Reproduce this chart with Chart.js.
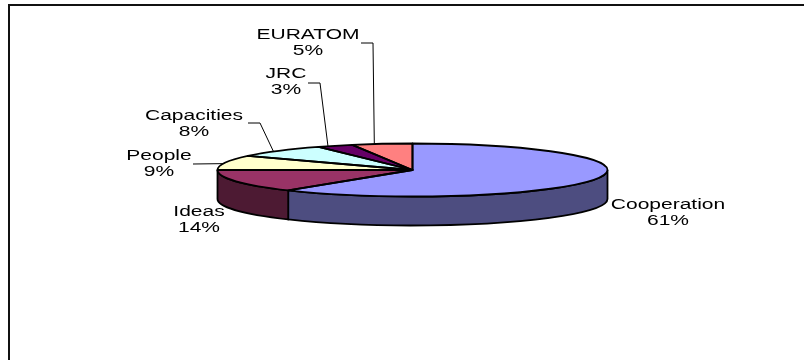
<!DOCTYPE html>
<html>
<head>
<meta charset="utf-8">
<title>Budget shares</title>
<script src="https://cdn.jsdelivr.net/npm/chart.js@4"></script>
<style>
  html, body { margin: 0; background: #fff; }
  canvas { display: block; }
</style>
</head>
<body>
<canvas id="pie3d" width="804" height="360"></canvas>
<script>
const categories = ["Cooperation", "Ideas", "People", "Capacities", "JRC", "EURATOM"];
const shares = [61, 14, 9, 8, 3, 5];
const topColors = ["#9999ff", "#993366", "#ffffcc", "#ccffff", "#660066", "#ff8080"];
const sideColors = ["#4d4d80", "#4d1a33", "#808066", "#668080", "#330033", "#804040"];

// centre of each two line label
const labelX = [668, 199, 159, 194, 286, 308];
const labelY = [205, 212, 156, 116, 74, 35];
// elbow of the leader line, null when the label sits next to the pie
const elbowX = [null, null, 193, 260, 320, 373];
const elbowY = [null, null, 164, 123, 83, 43];
const leaderStartX = [null, null, 193, 248, 308, 361];

const RX = 195;
const RY = 26.5;
const DEPTH = 29;
// leaders meet the rim a little before the middle of the slice
const LEADER_ANGLE_SHIFT = 0.04;

const pieShape = {
  id: "pieShape",
  beforeDatasetsDraw(chart) {
    const ctx = chart.ctx;
    const arcs = chart.getDatasetMeta(0).data;
    const { x, y } = arcs[0];

    // frame
    ctx.save();
    ctx.strokeStyle = "#111";
    ctx.lineWidth = 2;
    ctx.beginPath();
    ctx.moveTo(9, 360);
    ctx.lineTo(9, 5);
    ctx.lineTo(804, 5);
    ctx.stroke();
    ctx.restore();

    // side wall, only the front half of the rim shows
    arcs.forEach((arc, i) => {
      const a0 = Math.max(arc.startAngle, 0);
      const a1 = Math.min(arc.endAngle, Math.PI);
      if (a1 <= a0) return;
      ctx.beginPath();
      ctx.ellipse(x, y, RX, RY, 0, a0, a1);
      ctx.ellipse(x, y + DEPTH, RX, RY, 0, a1, a0, true);
      ctx.closePath();
      ctx.fillStyle = sideColors[i];
      ctx.fill();
      ctx.strokeStyle = "#000";
      ctx.lineWidth = 1.8;
      ctx.stroke();
    });

    // flatten the library's arcs into the top face
    const r = arcs[0].outerRadius;
    ctx.save();
    ctx.translate(x, y);
    ctx.scale(RX / r, RY / r);
    ctx.translate(-x, -y);
  },
  afterDatasetsDraw(chart) {
    const ctx = chart.ctx;
    const arcs = chart.getDatasetMeta(0).data;
    ctx.restore();

    ctx.strokeStyle = "#000";
    ctx.lineWidth = 1.8;
    ctx.lineJoin = "round";
    arcs.forEach((arc) => {
      ctx.beginPath();
      ctx.moveTo(arc.x, arc.y);
      ctx.ellipse(arc.x, arc.y, RX, RY, 0, arc.startAngle, arc.endAngle);
      ctx.closePath();
      ctx.stroke();
    });

    // leader lines run from the label to the rim of the slice
    ctx.lineWidth = 1;
    arcs.forEach((arc, i) => {
      if (elbowX[i] === null) return;
      const mid = (arc.startAngle + arc.endAngle) / 2 - LEADER_ANGLE_SHIFT;
      ctx.beginPath();
      ctx.moveTo(leaderStartX[i], elbowY[i]);
      ctx.lineTo(elbowX[i], elbowY[i]);
      ctx.lineTo(arc.x + RX * Math.cos(mid), arc.y + RY * Math.sin(mid));
      ctx.stroke();
    });

    // labels are set wide, the whole drawing is stretched sideways
    const stretch = 1.5;
    ctx.fillStyle = "#000";
    ctx.font = "14px 'Liberation Sans'";
    ctx.textAlign = "center";
    ctx.textBaseline = "middle";
    categories.forEach((name, i) => {
      ctx.save();
      ctx.translate(labelX[i], labelY[i]);
      ctx.scale(stretch, 1);
      ctx.fillText(name, 0, 0);
      ctx.fillText(shares[i] + "%", 0, 16);
      ctx.restore();
    });
  }
};

new Chart(document.getElementById("pie3d"), {
  type: "pie",
  plugins: [pieShape],
  data: {
    labels: categories,
    datasets: [
      {
        data: shares,
        backgroundColor: topColors,
        borderWidth: 0,
      },
    ],
  },
  options: {
    responsive: false,
    animation: false,
    layout: { padding: { left: 21, right: 0, top: 0, bottom: 20 } },
    plugins: {
      legend: { display: false },
      tooltip: { enabled: false },
    },
  },
});
</script>
</body>
</html>
